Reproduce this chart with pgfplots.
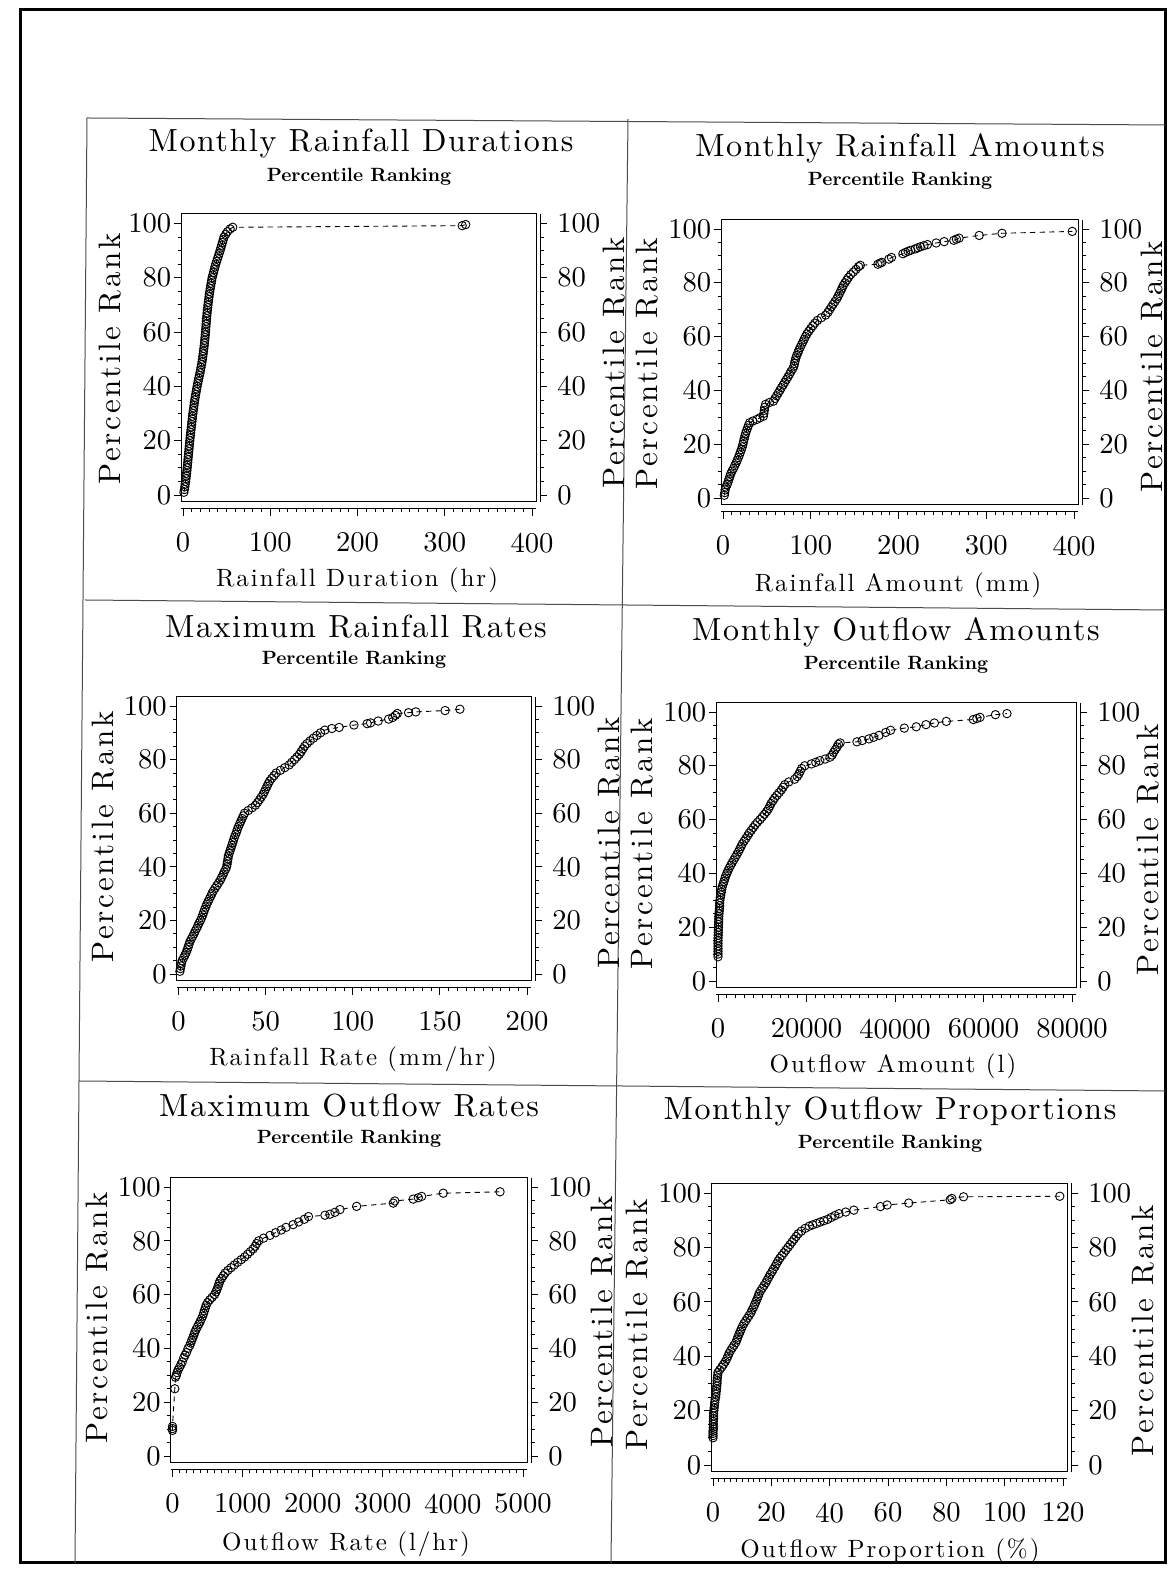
\documentclass[border=0pt]{standalone}
\usepackage{fontspec}
\usepackage{pgfplots}
\pgfplotsset{compat=1.18}

% Latin Modern at its 10pt design, loaded through fontspec so that it can be tracked
\newfontfamily\lmten{lmroman10-regular.otf}

% text sizes (the picture is laid out at 0.5pt per unit)
\newcommand\titlefont{\lmten\fontsize{16}{19}\selectfont\addfontfeatures{LetterSpace=5}}
\newcommand\subfont{\fontsize{9.6}{12}\selectfont\bfseries}
\newcommand\xlabfont{\lmten\fontsize{12.5}{15}\selectfont\addfontfeatures{LetterSpace=8}}
\newcommand\ylabfont{\lmten\fontsize{15.5}{17}\selectfont\addfontfeatures{LetterSpace=9}}
\newcommand\tickfont{\lmten\fontsize{14.3}{17}\selectfont}

% geometry of one panel from the position of x=0, x=max, y=0, y=100 (in layout units)
\newcommand\panelgeom[4]{%
  \pgfmathsetmacro\pgL{0.5*(#1-0.005*(#2-#1))}%
  \pgfmathsetmacro\pgW{0.5*1.017*(#2-#1)}%
  \pgfmathsetmacro\pgB{0.5*(1575-(#3+0.025*(#3-#4)))}%
  \pgfmathsetmacro\pgH{0.5*1.06*(#3-#4)}%
}

\pgfplotsset{
  geom/.style={scale only axis, anchor=south west, at={(\pgL pt,\pgB pt)},
    width=\pgW pt, height=\pgH pt, ymin=-2.5, ymax=103.5},
  tickstyle/.style={tick align=outside, major tick length=3.5pt, minor tick length=1.8pt,
    every tick/.append style={black, line width=0.45pt},
    /pgf/number format/assume math mode=true,
    tick label style={font=\tickfont}},
  frame/.style={geom, tickstyle, xtick=\empty, ytick={0,20,...,100}, minor y tick num=3,
    ytick pos=left, yticklabel style={xshift=2pt},
    axis line style={line width=0.5pt}, clip=false},
  xruler/.style={geom, tickstyle, axis x line*=bottom, axis y line=none,
    axis x line shift=3.5pt, minor x tick num=9, scaled x ticks=false,
    xticklabel style={/pgf/number format/1000 sep={}, yshift=-5pt},
    axis line style={line width=0.45pt}},
  yruler/.style={geom, tickstyle, axis y line*=right, axis x line=none,
    axis y line shift=2pt, ytick={0,20,...,100}, minor y tick num=3,
    yticklabel style={xshift=1.5pt}, axis line style={line width=0.45pt}},
  series/.style={black, line width=0.45pt, dash pattern=on 2.6pt off 2.2pt,
    mark=o, mark size=2.1pt, mark options={solid, line width=0.45pt}},
}

\begin{document}
\begin{tikzpicture}[x=0.5pt, y=0.5pt]
\path[use as bounding box, fill=white] (0,0) rectangle (1175,1575);

% page frame and panel grid
\draw[line width=1.5pt] (20,{1575-10}) rectangle (1165,{1575-1563});
\begin{scope}[line width=0.5pt, black!70]
  \draw (87,{1575-118}) -- (1165,{1575-125});
  \draw (87,{1575-118}) -- (75,{1575-1563});
  \draw (628,{1575-119}) -- (611,{1575-1563});
  \draw (85,{1575-600}) -- (1165,{1575-610});
  \draw (79,{1575-1081}) -- (1165,{1575-1091});
\end{scope}

% ---------------- Monthly Rainfall Durations ----------------
\node[font=\titlefont] at (361,{1575-144}) {Monthly Rainfall Durations};
\node[font=\subfont] at (359,{1575-177}) {Percentile Ranking};
\node[font=\xlabfont] at (357,{1575-580}) {Rainfall Duration (hr)};
\node[font=\ylabfont, rotate=90] at (110,{1575-359}) {Percentile Rank};
\node[font=\ylabfont, rotate=90] at (614,{1575-363}) {Percentile Rank};
\panelgeom{183}{532}{495}{223.5}
\begin{axis}[frame, xmin=-2, xmax=404.8]
\addplot[series] coordinates {
(1,1) (1.6,2) (2.1,3) (2.5,4) (3,5) (3.4,6) (3.8,7) (4.1,8) (4.5,9) (4.8,10)
(5.1,11) (5.4,12) (5.7,13) (6,14) (6.3,15) (6.6,16) (6.9,17) (7.2,18) (7.5,19) (7.8,20)
(8.1,21) (8.5,22) (8.8,23) (9.2,24) (9.5,25) (9.9,26) (10.2,27) (10.6,28) (10.9,29) (11.3,30)
(11.7,31) (12.2,32) (12.6,33) (13,34) (13.5,35) (14,36) (14.5,37) (15.1,38) (15.6,39) (16.2,40)
(16.8,41) (17.5,42) (18.1,43) (18.8,44) (19.5,45) (20.1,46) (20.6,47) (21.2,48) (21.8,49) (22.3,50)
(22.7,51) (23.1,52) (23.5,53) (23.9,54) (24.3,55) (24.6,56) (24.9,57) (25.2,58) (25.5,59) (25.8,60)
(26,61) (26.3,62) (26.5,63) (26.8,64) (27,65) (27.3,66) (27.6,67) (27.9,68) (28.3,69) (28.6,70)
(29,71) (29.4,72) (29.8,73) (30.2,74) (30.7,75) (31.2,76) (31.7,77) (32.3,78) (32.8,79) (33.4,80)
(34.2,81) (35,82) (35.8,83) (36.6,84) (37.5,85) (38.5,86) (39.5,87) (40.5,88) (41.5,89) (42.5,90)
(43.4,91) (44.3,92) (45.2,93) (46.1,94) (47,95) (49,96) (51,97) (54,98) (57,98.6)
(320,99.2) (324,99.6)
};
\end{axis}
\begin{axis}[xruler, xmin=-2, xmax=404.8, xtick={0,100,...,400}]\end{axis}
\begin{axis}[yruler, xmin=-2, xmax=404.8]\end{axis}

% ---------------- Monthly Rainfall Amounts ----------------
\node[font=\titlefont] at (900,{1575-148}) {Monthly Rainfall Amounts};
\node[font=\subfont] at (900,{1575-181}) {Percentile Ranking};
\node[font=\xlabfont] at (898,{1575-585}) {Rainfall Amount (mm)};
\node[font=\ylabfont, rotate=90] at (647,{1575-364}) {Percentile Rank};
\node[font=\ylabfont, rotate=90] at (1152,{1575-367}) {Percentile Rank};
\panelgeom{723}{1074}{498}{229}
\begin{axis}[frame, xmin=-2, xmax=404.8]
\addplot[series] coordinates {
(1.5,1) (2,2) (2.4,3) (3.2,4) (4.8,5) (5.8,6) (6.8,7) (7.8,8) (8.8,9) (10.3,10)
(11.9,11) (13.3,12) (14.9,13) (16.3,14) (17.5,15) (18.7,16) (19.8,17) (20.9,18) (21.9,19) (22.7,20)
(23.4,21) (24.1,22) (24.9,23) (25.7,24) (26.8,25) (27.9,26) (29,27) (30.5,28) (34,28.6) (38.6,29.2)
(42,29.8) (46,30.4) (46.6,31.5) (47.1,32.6) (47.5,33.7) (48.5,34.8) (53,35.5) (57.5,36) (59.3,37) (61.1,38)
(63,39) (64.8,40) (66.6,41) (68.5,42) (70.3,43) (72.2,44) (74,45) (75.8,46) (77.4,47) (79.4,48)
(80.8,49) (81.5,50) (82.2,51) (83,52) (84,53) (85.4,54) (86.5,55) (88,56) (89.5,57) (91,58)
(92.5,59) (94,60) (95.6,61) (97.8,62) (100,63) (102.3,64) (104.6,65) (107.5,66) (112,67) (117,68)
(119.5,69) (121.5,70) (123.5,71) (125.5,72) (127.5,73) (129.6,74) (131.2,75) (132.7,76) (134.2,77) (135.7,78)
(137.1,79) (139,80) (141,81) (143,82) (145.5,83) (148.5,84) (151.5,85) (154.5,86) (156.5,86.5)
(176.5,86.9) (179,87.3) (181,87.6) (189,88.8) (192,89.4) (205,90.8) (208,91.3) (211,91.7) (214,92.1)
(219,92.6) (222,93) (225,93.4) (229,93.8) (233,94.2) (243,94.8) (252,95.3) (263,95.8) (266,96.2)
(269,96.6) (292,97.6) (318,98.4) (398,99.1)
};
\end{axis}
\begin{axis}[xruler, xmin=-2, xmax=404.8, xtick={0,100,...,400}]\end{axis}
\begin{axis}[yruler, xmin=-2, xmax=404.8]\end{axis}

% ---------------- Maximum Rainfall Rates ----------------
\node[font=\titlefont] at (356,{1575-627}) {Maximum Rainfall Rates};
\node[font=\subfont] at (354,{1575-660}) {Percentile Ranking};
\node[font=\xlabfont] at (353,{1575-1059}) {Rainfall Rate (mm/hr)};
\node[font=\ylabfont, rotate=90] at (103,{1575-837}) {Percentile Rank};
\node[font=\ylabfont, rotate=90] at (609,{1575-843}) {Percentile Rank};
\panelgeom{178.5}{527}{974}{706}
\begin{axis}[frame, xmin=-1, xmax=202.4]
\addplot[series] coordinates {
(0.8,1) (1.1,2) (1.4,3) (1.7,4) (2.1,5) (2.9,6) (3.7,7) (4.4,8) (5,9) (5.5,10)
(6,11) (6.5,12) (7.3,13) (8.1,14) (8.9,15) (9.6,16) (10.4,17) (11.1,18) (11.8,19) (12.6,20)
(13.3,21) (13.9,22) (14.4,23) (15,24) (15.6,25) (16.2,26) (17,27) (17.7,28) (18.5,29) (19.2,30)
(20,31) (21,32) (22,33) (23,34) (24,35) (24.7,36) (25.5,37) (26.2,38) (27,39) (27.6,40)
(27.9,41) (28.1,42) (28.4,43) (28.6,44) (29.1,45) (29.6,46) (30.1,47) (30.6,48) (31.1,49) (31.6,50)
(32.1,51) (32.7,52) (33.3,53) (33.8,54) (34.4,55) (35.1,56) (35.8,57) (36.5,58) (37.2,59) (37.9,60)
(40,61) (42.2,62) (44.2,63) (45.4,64) (46.5,65) (47.5,66) (48.5,67) (49.3,68) (50,69) (50.8,70)
(51.5,71) (52.3,72) (53.5,73) (54.8,74) (56,75) (58.5,76) (61,77) (63.5,78) (65,79) (66.6,80)
(68,81) (69.4,82) (70.4,83) (71.4,84) (72.4,85) (73.8,86) (75.5,87) (77.4,88) (79.4,89) (81.5,90)
(84,91) (88,91.6) (92.2,92) (100.7,92.9) (108.3,93.4) (110.2,93.7) (114.6,94.4) (120.6,95.1)
(122.9,95.7) (124.5,96.5) (125.6,97.2) (132,97.5) (136.2,97.8) (153,98.3) (161.5,98.8)
};
\end{axis}
\begin{axis}[xruler, xmin=-1, xmax=202.4, xtick={0,50,...,200}]\end{axis}
\begin{axis}[yruler, xmin=-1, xmax=202.4]\end{axis}

% ---------------- Monthly Outflow Amounts ----------------
\node[font=\titlefont] at (896,{1575-632}) {Monthly Outflow Amounts};
\node[font=\subfont] at (896,{1575-665}) {Percentile Ranking};
\node[font=\xlabfont] at (893,{1575-1066}) {Outflow Amount (l)};
\node[font=\ylabfont, rotate=90] at (642,{1575-844}) {Percentile Rank};
\node[font=\ylabfont, rotate=90] at (1148,{1575-850}) {Percentile Rank};
\panelgeom{718}{1072}{981}{712}
\begin{axis}[frame, xmin=-400, xmax=80960]
\addplot[series] coordinates {
(0,9) (0,10) (0,11) (0,12) (0,13) (0,14) (0,15) (20,16) (40,17) (60,18)
(80,19) (100,20) (120,21) (140,22) (160,23) (180,24) (220,25) (280,26) (330,27) (360,28)
(390,29) (420,30) (520,31) (620,32) (730,33) (830,34) (940,35) (1150,36) (1350,37) (1550,38)
(1720,39) (2000,40) (2250,41) (2550,42) (2860,43) (3200,44) (3550,45) (3900,46) (4250,47) (4600,48)
(4900,49) (5200,50) (5500,51) (5900,52) (6300,53) (6700,54) (7050,55) (7500,56) (7950,57) (8400,58)
(8900,59) (9500,60) (10000,61) (10500,62) (11000,63) (11400,64) (11700,65) (12000,66) (12400,67) (12800,68)
(13300,69) (13800,70) (14300,71) (14700,72) (15100,73) (16000,74) (17300,75) (17900,76) (18300,77) (18600,78)
(18900,79) (19600,80) (21100,80.7) (22100,81.3) (23000,81.9) (24200,82.5) (25300,83.2) (25800,84) (26100,85) (26500,86)
(26900,87) (27200,88) (27600,88.5) (31400,88.9) (32600,89.4) (34100,90) (35200,90.6) (36400,91.3) (37900,92.4) (39000,93.2)
(42100,94) (44800,94.5) (47000,95.3) (48900,95.9) (51600,96.5) (57700,97.2) (58500,97.6) (59200,98) (62700,99) (65300,99.4)
};
\end{axis}
\begin{axis}[xruler, xmin=-400, xmax=80960, xtick={0,20000,...,80000}]\end{axis}
\begin{axis}[yruler, xmin=-400, xmax=80960]\end{axis}

% ---------------- Maximum Outflow Rates ----------------
\node[font=\titlefont] at (349,{1575-1106}) {Maximum Outflow Rates};
\node[font=\subfont] at (349,{1575-1139}) {Percentile Ranking};
\node[font=\xlabfont] at (346,{1575-1544}) {Outflow Rate (l/hr)};
\node[font=\ylabfont, rotate=90] at (97,{1575-1318}) {Percentile Rank};
\node[font=\ylabfont, rotate=90] at (602,{1575-1322}) {Percentile Rank};
\panelgeom{172.5}{523}{1456}{1187}
\begin{axis}[frame, xmin=-25, xmax=5060]
\addplot[series] coordinates {
(0,9.5) (0,10.2) (0,11) (33,25) (43,29.3) (55,30) (65,31) (80,32) (100,33) (120,34)
(140,35) (160,36.5) (180,37.5) (200,38.5) (222,40) (245,41) (260,42) (275,43) (290,44) (305,45)
(318,46) (336,47) (355,48) (375,49) (395,50) (414,51) (430,52) (443,53) (455,54) (468,55)
(480,56) (500,57) (530,58) (565,59) (600,60) (620,61) (635,62) (650,63) (663,64) (675,65)
(700,66) (725,67) (750,68) (790,69) (835,70) (880,71) (930,72) (980,73) (1030,74) (1070,75)
(1110,76) (1150,77) (1180,78) (1200,79) (1230,80) (1300,81) (1390,82) (1470,83) (1550,84) (1620,85)
(1720,86) (1800,87) (1880,88) (1940,89) (2175,89.5) (2246,89.9) (2318,90.6) (2389,91.6) (2627,92.8) (3149,94)
(3172,94.8) (3434,95.5) (3506,96) (3554,96.5) (3862,97.7) (4672,98.2)
};
\end{axis}
\begin{axis}[xruler, xmin=-25, xmax=5060, xtick={0,1000,...,5000}]\end{axis}
\begin{axis}[yruler, xmin=-25, xmax=5060]\end{axis}

% ---------------- Monthly Outflow Proportions ----------------
\node[font=\titlefont] at (890,{1575-1112}) {Monthly Outflow Proportions};
\node[font=\subfont] at (890,{1575-1144}) {Percentile Ranking};
\node[font=\xlabfont] at (890,{1575-1551}) {Outflow Proportion (\%)};
\node[font=\ylabfont, rotate=90] at (637,{1575-1325}) {Percentile Rank};
\node[font=\ylabfont, rotate=90] at (1143,{1575-1331}) {Percentile Rank};
\panelgeom{713}{1063}{1465}{1193}
\begin{axis}[frame, xmin=-0.6, xmax=121.44]
\addplot[series] coordinates {
(0,10) (0,10.8) (0,11.6) (0,12.4) (0.1,13.2) (0.1,14) (0.1,15) (0.1,16) (0.2,17) (0.2,18)
(0.2,19) (0.3,20) (0.4,21) (0.5,22) (0.6,23) (0.7,24) (0.9,25) (1,26) (1.1,27) (1.2,28)
(1.3,29) (1.4,30) (1.4,31) (1.5,32) (1.6,33) (1.7,34) (2.3,35) (3,36) (3.6,37) (4.2,38)
(4.7,39) (5.1,40) (5.5,41) (6,42) (6.6,43) (7.2,44) (7.8,45) (8.2,46) (8.5,47) (8.9,48)
(9.3,49) (9.7,50) (10.1,51) (10.6,52) (11.2,53) (11.8,54) (12.4,55) (13,56) (13.4,57) (13.9,58)
(14.3,59) (14.7,60) (15.1,61) (15.5,62) (15.8,63) (16.3,64) (16.9,65) (17.5,66) (18.1,67) (18.6,68)
(19.1,69) (19.6,70) (20.2,71) (20.7,72) (21.3,73) (21.8,74) (22.3,75) (22.9,76) (23.6,77) (24.3,78)
(25,79) (25.7,80) (26.4,81) (27.1,82) (27.8,83) (28.5,84) (29.2,85) (30.3,86) (31.6,87) (33,87.8)
(34.2,88.3) (35.5,88.8) (36.7,89.3) (38,89.8) (39.3,90.3) (40.5,91) (41.8,91.7) (43.2,92.4) (45.5,93) (48.3,93.7)
(57.4,95) (59.7,95.6) (67.1,96.3) (81.3,97.5) (81.9,98) (85.9,98.6) (118.9,98.8)
};
\end{axis}
\begin{axis}[xruler, xmin=-0.6, xmax=121.44, xtick={0,20,...,120}]\end{axis}
\begin{axis}[yruler, xmin=-0.6, xmax=121.44]\end{axis}

\end{tikzpicture}
\end{document}
